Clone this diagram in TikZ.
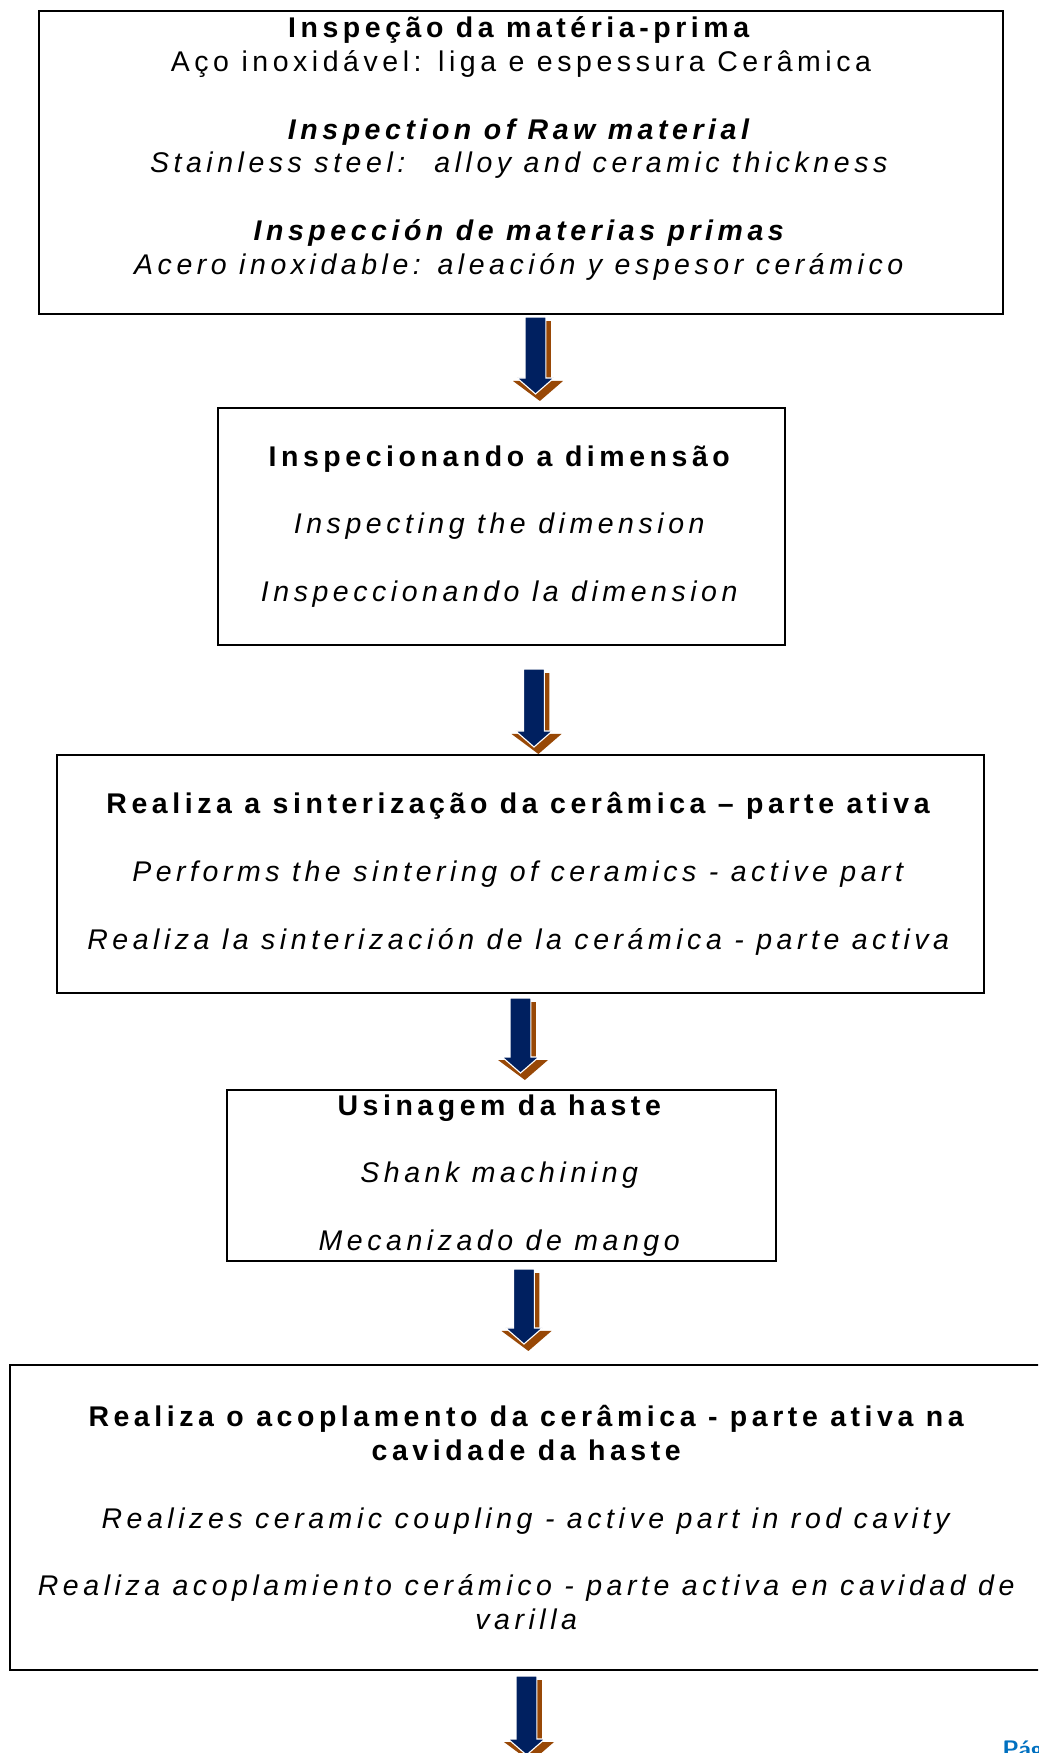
\documentclass[tikz,border=0pt]{standalone}
\usepackage{fontspec}
\usetikzlibrary{calc}
\newfontfamily\stagefont{Liberation Sans}[LetterSpace=16]
\definecolor{arrnavy}{RGB}{0,32,96}
\definecolor{arrbrown}{RGB}{152,72,6}
\definecolor{pageblue}{RGB}{0,112,192}

\tikzset{stage/.style={draw,line width=1.4pt,inner sep=0pt,align=center,
  font=\stagefont\fontsize{20.25}{24.1}\selectfont}}

% block arrow with shadow: #1 top of shaft, #2 tip
\newcommand{\flowarrow}[2]{%
  \fill[arrbrown] let \p1=(#1), \p2=(#2) in
    (\x1-0.135cm,\y1-0.1cm) -- (\x1+0.385cm,\y1-0.1cm)
    -- (\x1+0.385cm,\y2+0.325cm) -- (\x1+0.6875cm,\y2+0.325cm)
    -- (\x1+0.11cm,\y2-0.175cm) -- (\x1-0.5625cm,\y2+0.325cm)
    -- (\x1-0.135cm,\y2+0.325cm) -- cycle;
  \filldraw[fill=arrnavy,draw=white,line width=0.8pt] let \p1=(#1), \p2=(#2) in
    (\x1-0.26cm,\y1) -- (\x1+0.26cm,\y1)
    -- (\x1+0.26cm,\y2+0.4cm) -- (\x1+0.46cm,\y2+0.4cm)
    -- (\x1,\y2) -- (\x1-0.46cm,\y2+0.4cm)
    -- (\x1-0.26cm,\y2+0.4cm) -- cycle;
}

\begin{document}
\begin{tikzpicture}[x=0.025cm,y=-0.025cm]
\useasboundingbox (0,0) rectangle (1038,1753);
\clip (0,0) rectangle (1038,1753);
%\draw[step=100,gray,very thin] (0,0) grid (1038,1753);
\node[stage,minimum width=24.1cm,minimum height=7.575cm] (b1) at (521,162.5)
  {\textbf{Inspeção da matéria-prima}\\
   Aço inoxidável: liga e espessura Cerâmica\\[\baselineskip]
   \textbf{\textit{Inspection of Raw material}}\\
   \textit{Stainless steel:~ alloy and ceramic thickness}\\[\baselineskip]
   \textbf{\textit{Inspección de materias primas}}\\
   \textit{Acero inoxidable: aleación y espesor cerámico}\\ \mbox{}};
\node[stage,minimum width=14.175cm,minimum height=5.925cm] (b2) at (501.5,526.5)
  {\textbf{Inspecionando a dimensão}\\[\baselineskip]
   \textit{Inspecting the dimension}\\[\baselineskip]
   \textit{Inspeccionando la dimension}};
\node[stage,minimum width=23.175cm,minimum height=5.95cm] (b3) at (520.5,874)
  {\textbf{Realiza a sinterização da cerâmica – parte ativa}\\[\baselineskip]
   \textit{Performs the sintering of ceramics - active part}\\[\baselineskip]
   \textit{Realiza la sinterización de la cerámica - parte activa}};
\node[stage,minimum width=13.725cm,minimum height=4.275cm] (b4) at (501.5,1175.5)
  {\textbf{Usinagem da haste}\\[\baselineskip]
   \textit{Shank machining}\\[\baselineskip]
   \textit{Mecanizado de mango}};
\node[stage,minimum width=25.925cm,minimum height=7.625cm] (b5) at (528.5,1517.5)
  {\textbf{Realiza o acoplamento da cerâmica - parte ativa na}\\
   \textbf{cavidade da haste}\\[\baselineskip]
   \textit{Realizes ceramic coupling - active part in rod cavity}\\[\baselineskip]
   \textit{Realiza acoplamiento cerámico - parte activa en cavidad de}\\
   \textit{varilla}};
\coordinate (out) at (526.5,1755);

\flowarrow{$(b1.south)+(14.5,2)$}{$(b2.north)+(0,-13)$}
\flowarrow{$(b2.south)+(32.5,23)$}{$(b3.north)+(0,-7)$}
\flowarrow{$(b3.south)+(0,4)$}{$(b4.north)+(0,-16)$}
\flowarrow{$(b4.south)+(22.5,7)$}{$(b5.north)+(0,-20)$}
\flowarrow{$(b5.south)+(-2,5)$}{out}

\node[anchor=base west,inner sep=0pt,pageblue,font=\sffamily\bfseries\fontsize{17}{19}\selectfont] (pg) at (1002,1757) {Página};
\end{tikzpicture}
\end{document}
